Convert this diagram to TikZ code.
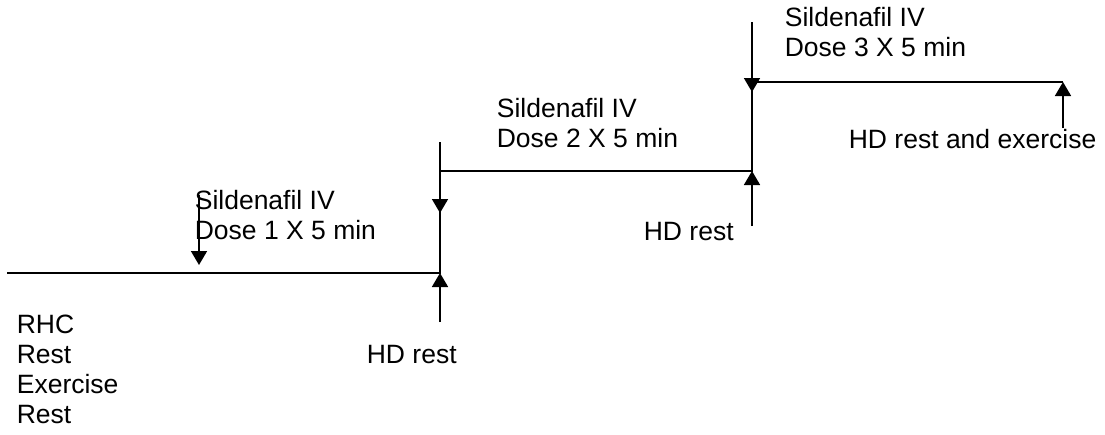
\documentclass[tikz,border=0pt]{standalone}
\usepackage{fontspec}
\setmainfont{Liberation Sans}
\usetikzlibrary{arrows.meta}
\begin{document}
\begin{tikzpicture}[x=1pt,y=-1pt,line width=1.7pt,
  arr/.style={-{Triangle[length=14pt,width=16pt]}},
  lbl/.style={inner sep=0pt,anchor=base west,align=left,font=\fontsize{26.5}{30}\selectfont}]
\useasboundingbox (0,0) rectangle (1105,434);
% staircase
\coordinate (s0) at (7,273);
\coordinate (c1) at (440,273);
\coordinate (c2) at (440,171);
\coordinate (c3) at (752,171);
\coordinate (c4) at (752,82);
\coordinate (s3) at (1063,82);
\draw (s0) -- (c1) -- (c2) -- (c3) -- (c4) -- (s3);
% arrow end points
\coordinate (a1s) at (199,195);
\coordinate (a1e) at (199,265);
\coordinate (d1s) at (440,142);
\coordinate (d1e) at (440,213);
\coordinate (u1s) at (440,322);
\coordinate (d2s) at (752,22);
\coordinate (d2e) at (752,92);
\coordinate (u2s) at (752,226);
\coordinate (u3s) at (1063,128);
\draw[arr] (a1s) -- (a1e);
\draw[arr] (d1s) -- (d1e);
\draw[arr] (u1s) -- (c1);
\draw[arr] (d2s) -- (d2e);
\draw[arr] (u2s) -- (c3);
\draw[arr] (u3s) -- (s3);
% labels (base anchor = baseline of last line)
\node[lbl] (sil1) at (194,239) {Sildenafil IV\\Dose 1 X 5 min};
\node[lbl] (sil2) at (496,147) {Sildenafil IV\\Dose 2 X 5 min};
\node[lbl] (sil3) at (784,56) {Sildenafil IV\\Dose 3 X 5 min};
\node[lbl] (rhc) at (16,423) {RHC\\Rest\\Exercise\\Rest};
\node[lbl] (hd1) at (366,363) {HD rest};
\node[lbl] (hd2) at (643,240) {HD rest};
\node[lbl] (hd3) at (848,148) {HD rest and exercise};
\end{tikzpicture}
\end{document}
